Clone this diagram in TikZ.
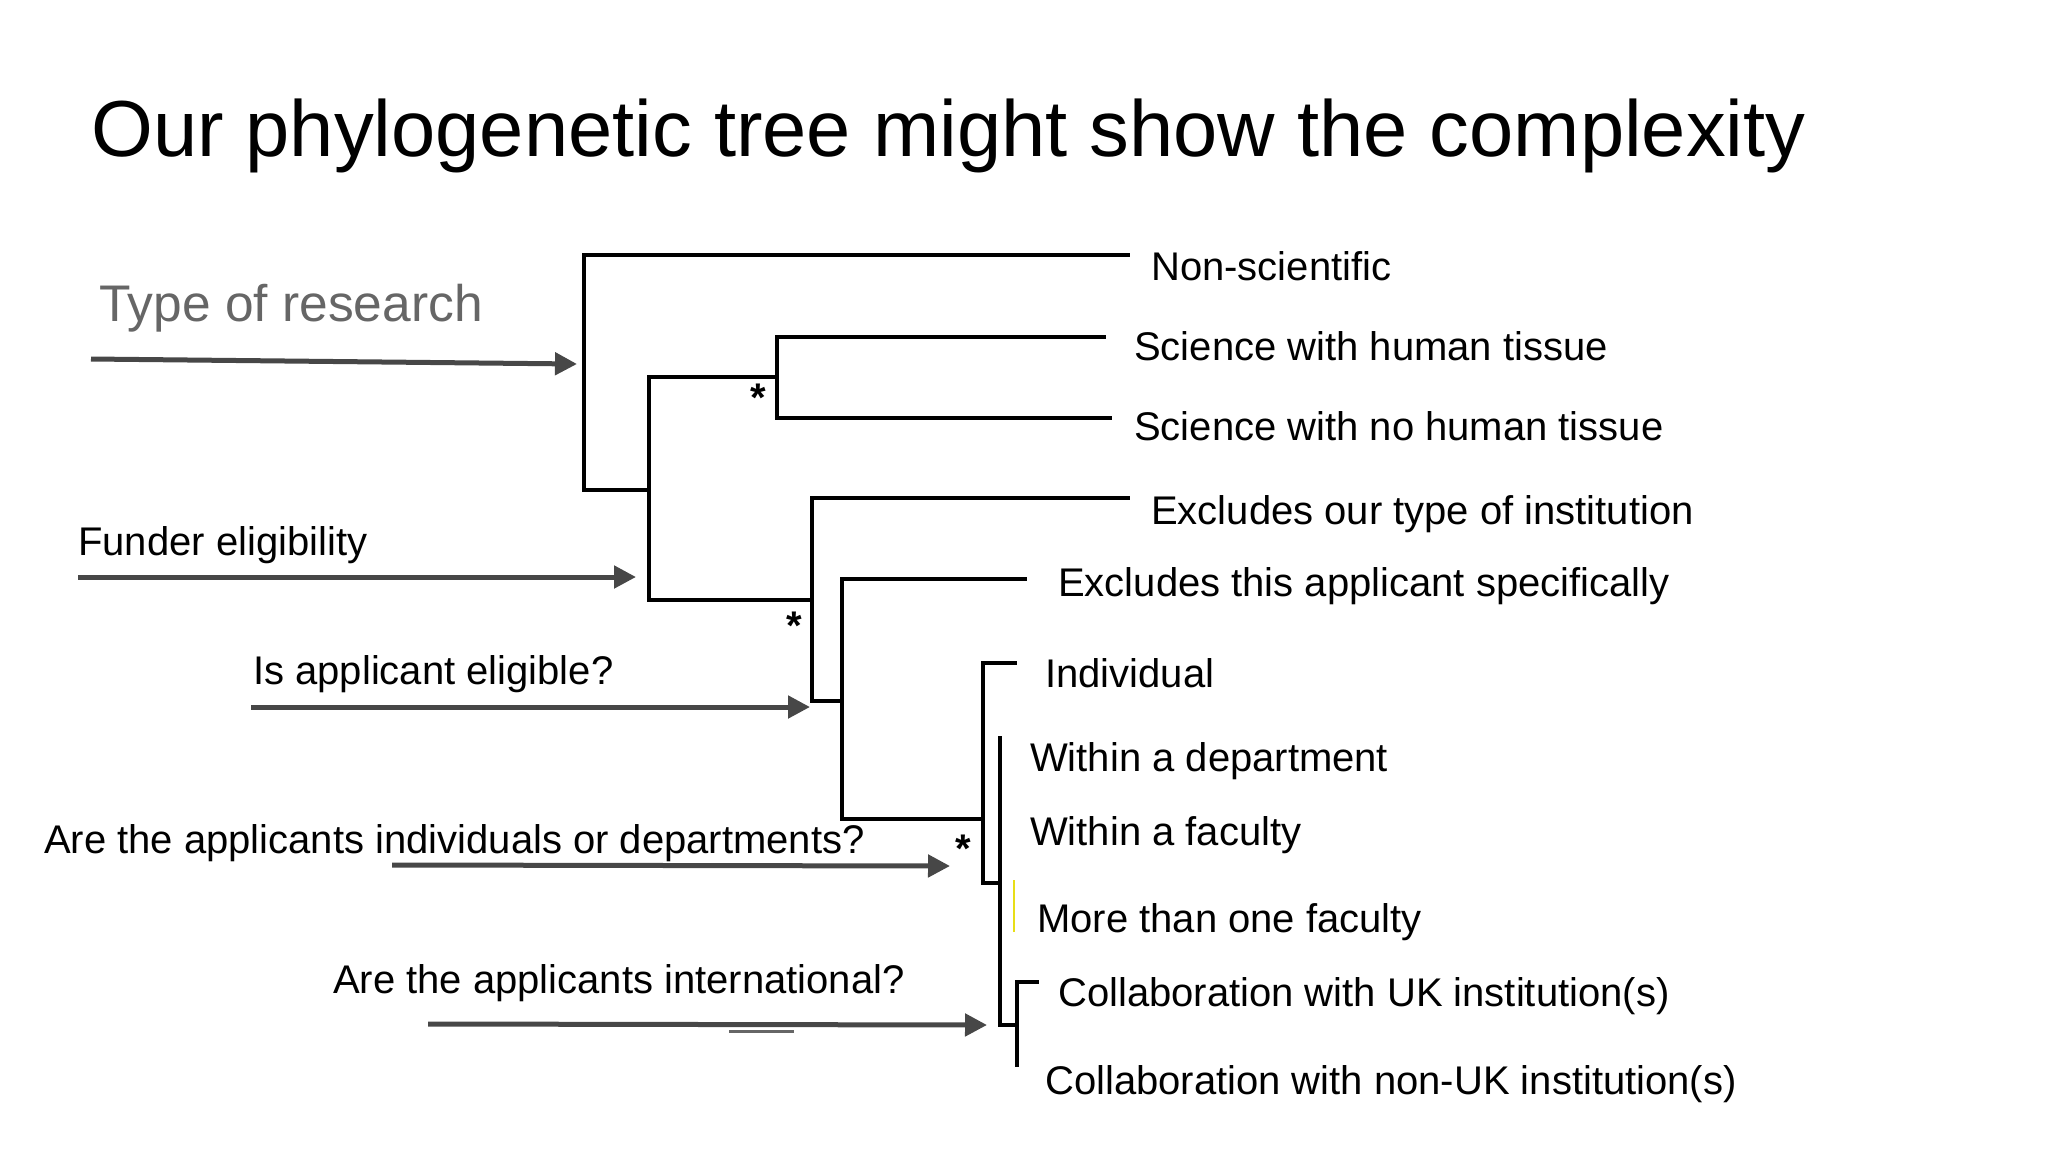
\documentclass[tikz,border=0pt]{standalone}
\usepackage{fontspec}
\setmainfont{Liberation Sans}
\usetikzlibrary{arrows.meta}
\begin{document}
\begin{tikzpicture}[x=1pt,y=-1pt,
  lab/.style={anchor=west,inner sep=0pt,font=\fontsize{40}{46}\selectfont},
  tree/.style={line width=4pt,line cap=rect,black},
  arr/.style={line width=5pt,draw=black!72,-{Triangle[length=22pt,width=22pt]}},
  star/.style={inner sep=0pt,font=\fontsize{40}{44}\selectfont\bfseries}]
\useasboundingbox (0,0) rectangle (2048,1152);
\node[anchor=west,inner sep=0pt,font=\fontsize{79.5}{88}\selectfont] (title) at (91,136) {Our phylogenetic tree might show the complexity};
% labels
\node[lab] (l1) at (1151,266) {Non-scientific};
\node[lab] (l2) at (1134,346) {Science with human tissue};
\node[lab] (l3) at (1134,426) {Science with no human tissue};
\node[lab] (l4) at (1151,514) {Excludes our type of institution};
\node[lab] (l5) at (1058,586) {Excludes this applicant specifically};
\node[lab] (l6) at (1045,673) {Individual};
\node[lab] (l7) at (1030,761) {Within a department};
\node[lab] (l8) at (1030,835) {Within a faculty};
\node[lab] (l9) at (1037,922) {More than one faculty};
\node[lab] (l10) at (1058,996) {Collaboration with UK institution(s)};
\node[lab] (l11) at (1045,1084) {Collaboration with non-UK institution(s)};
\node[lab,text=black!60,font=\fontsize{51.5}{58}\selectfont] (q1) at (99,308) {Type of research};
\node[lab] (q2) at (78,545) {Funder eligibility};
\node[lab] (q3) at (253,674) {Is applicant eligible?};
\node[lab] (q4) at (44,843) {Are the applicants individuals or departments?};
\node[lab] (q5) at (333,983) {Are the applicants international?};
% tree
\draw[tree] (1128,255) -- (584,255) -- (584,490) -- (649,490);
\draw[tree] (777,377) -- (649,377) -- (649,600) -- (812,600);
\draw[tree] (1104,337) -- (777,337) -- (777,418) -- (1110,418);
\draw[tree] (1128,498) -- (812,498) -- (812,701) -- (842,701);
\draw[tree] (1025,579) -- (842,579) -- (842,819) -- (983,819);
\draw[tree] (1015,663) -- (983,663) -- (983,883) -- (1000,883);
\draw[tree] (1000,738) -- (1000,1025) -- (1017,1025);
\draw[tree] (1037,982) -- (1017,982) -- (1017,1065);
\draw[line width=2pt,yellow!90!black] (1014,880) -- (1014,932);
\node[star] (s1) at (758,398) {*};
\node[star] (s2) at (794,626) {*};
\node[star] (s3) at (963,849) {*};
% arrows
\coordinate (a1s) at (91,359); \coordinate (a1e) at (577,364);
\coordinate (a2s) at (78,577); \coordinate (a2e) at (636,577);
\coordinate (a3s) at (251,707); \coordinate (a3e) at (810,707);
\coordinate (a4s) at (392,865); \coordinate (a4e) at (950,866);
\coordinate (a5s) at (428,1024); \coordinate (a5e) at (987,1025);
\draw[arr] (a1s) -- (a1e);
\draw[arr] (a2s) -- (a2e);
\draw[arr] (a3s) -- (a3e);
\draw[arr] (a4s) -- (a4e);
\draw[arr] (a5s) -- (a5e);
\coordinate (u1) at (729,1031); \coordinate (u2) at (794,1031);
\draw[line width=3pt,black!60] (u1) -- (u2);
\end{tikzpicture}
\end{document}
